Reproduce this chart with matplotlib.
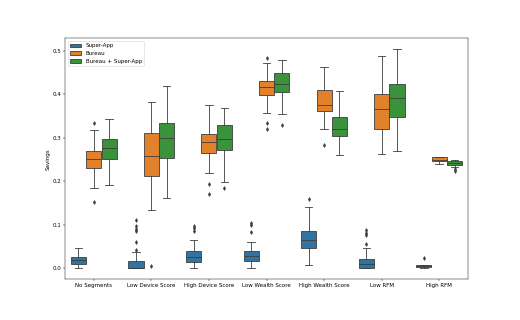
import numpy as np
import matplotlib
matplotlib.use("Agg")
import matplotlib.pyplot as plt
import matplotlib.patches as mpatches

categories = ["No Segments", "Low Device Score", "High Device Score", "Low Wealth Score",
              "High Wealth Score", "Low RFM", "High RFM"]
series = ["Super-App", "Bureau", "Bureau + Super-App"]

# box summaries per category: (whisker low, q1, median, q3, whisker high)
super_app_box = [
    (0.000, 0.010, 0.020, 0.026, 0.046),
    (0.000, 0.000, 0.002, 0.017, 0.037),
    (0.001, 0.015, 0.026, 0.040, 0.066),
    (0.001, 0.018, 0.028, 0.040, 0.061),
    (0.008, 0.046, 0.065, 0.085, 0.141),
    (0.000, 0.000, 0.009, 0.021, 0.046),
    (0.002, 0.003, 0.005, 0.007, 0.008),
]
super_app_out = [
    [],
    [0.043, 0.060, 0.085, 0.091, 0.097, 0.112],
    [0.087, 0.092, 0.098],
    [0.084, 0.099, 0.105],
    [0.160],
    [0.056, 0.076, 0.082, 0.088],
    [0.024],
]

bureau_box = [
    (0.185, 0.231, 0.251, 0.269, 0.318),
    (0.133, 0.213, 0.258, 0.310, 0.381),
    (0.218, 0.265, 0.290, 0.309, 0.376),
    (0.356, 0.398, 0.416, 0.431, 0.471),
    (0.321, 0.361, 0.376, 0.409, 0.463),
    (0.263, 0.321, 0.367, 0.400, 0.488),
    (0.240, 0.246, 0.250, 0.256, 0.256),
]
bureau_out = [
    [0.153, 0.335],
    [0.005],
    [0.172, 0.193],
    [0.320, 0.335, 0.482],
    [0.283],
    [],
    [],
]

combined_box = [
    (0.191, 0.251, 0.276, 0.298, 0.343),
    (0.161, 0.253, 0.299, 0.333, 0.418),
    (0.198, 0.273, 0.298, 0.329, 0.369),
    (0.354, 0.405, 0.424, 0.449, 0.479),
    (0.261, 0.305, 0.320, 0.347, 0.408),
    (0.270, 0.347, 0.391, 0.423, 0.503),
    (0.234, 0.238, 0.242, 0.247, 0.249),
]
combined_out = [
    [],
    [],
    [0.184],
    [0.329],
    [],
    [],
    [0.224, 0.228],
]

colors = ["#3274a1", "#e1812c", "#3a923a"]
gray = "#3d3d3d"

fig, ax = plt.subplots(figsize=(13, 8), dpi=40)
plt.subplots_adjust(left=0.125, right=0.9, top=0.88, bottom=0.127)

each = 0.8 / len(series)
offsets = np.linspace(0, 0.8 - each, len(series)) - (0.8 - each) / 2
x = np.arange(len(categories))

for k, (boxes, outs) in enumerate([(super_app_box, super_app_out),
                                   (bureau_box, bureau_out),
                                   (combined_box, combined_out)]):
    stats = []
    for (lo, q1, med, q3, hi), fl in zip(boxes, outs):
        stats.append(dict(whislo=lo, q1=q1, med=med, q3=q3, whishi=hi, fliers=fl))
    ax.bxp(stats, positions=x + offsets[k], widths=each * 0.98, patch_artist=True,
           boxprops=dict(facecolor=colors[k], edgecolor=gray, linewidth=1.5),
           medianprops=dict(color=gray, linewidth=1.5),
           whiskerprops=dict(color=gray, linewidth=1.5),
           capprops=dict(color=gray, linewidth=1.5),
           flierprops=dict(marker="d", markerfacecolor=gray, markeredgecolor=gray,
                           markersize=5, linestyle="none"),
           manage_ticks=False)

ax.set_xticks(x)
ax.set_xticklabels(categories)
ax.set_xlim(-0.5, len(categories) - 0.5)
ax.set_ylabel("Savings")

handles = [mpatches.Patch(facecolor=c, edgecolor=gray, linewidth=1.5, label=s)
           for c, s in zip(colors, series)]
ax.legend(handles=handles, loc="upper left")

fig.savefig("out.png", dpi=40)
